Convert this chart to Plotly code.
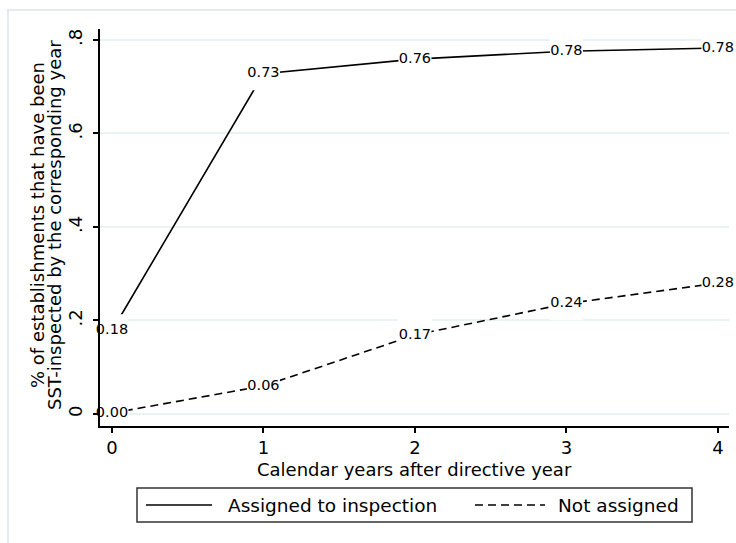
import plotly.graph_objects as go

# Share of establishments SST-inspected, by calendar year after directive year
years = [0, 1, 2, 3, 4]
assigned = [0.178, 0.728, 0.759, 0.776, 0.783]
not_assigned = [0.002, 0.060, 0.169, 0.236, 0.280]
series_names = ["Assigned to inspection", "Not assigned"]
y_ticks = [0, 0.2, 0.4, 0.6, 0.8]
y_tick_text = ["0", ".2", ".4", ".6", ".8"]
x_ticks = [0, 1, 2, 3, 4]

FONT = "DejaVu Sans"
GRID = "#eaf2f3"

fig = go.Figure()

# Series lines
fig.add_trace(go.Scatter(x=years, y=assigned, mode="lines",
                         line=dict(color="black", width=1.6),
                         showlegend=False, hoverinfo="skip"))
fig.add_trace(go.Scatter(x=years, y=not_assigned, mode="lines",
                         line=dict(color="black", width=1.6, dash="8px,5px"),
                         showlegend=False, hoverinfo="skip"))

# White boxes behind the value labels, then the labels themselves
for vals in (assigned, not_assigned):
    fig.add_trace(go.Scatter(x=years, y=vals, mode="markers",
                             marker=dict(symbol="square", size=33, color="white",
                                         line=dict(width=0)),
                             showlegend=False, hoverinfo="skip"))
    fig.add_trace(go.Scatter(x=years, y=vals, mode="text",
                             text=[f"{v:.2f}" for v in vals],
                             textposition="middle center",
                             textfont=dict(family=FONT, size=14.5, color="black"),
                             cliponaxis=False, showlegend=False, hoverinfo="skip"))

# Pixel -> paper helpers for the 736x543 canvas
L, R, T, B = 100, 7, 29, 117
W, H = 736, 543
pw, ph = W - L - R, H - T - B


def px(x):
    return (x - L) / pw


def py(y):
    return (H - B - y) / ph


shapes = [
    # outer graph-region frame
    dict(type="rect", xref="paper", yref="paper",
         x0=px(8), x1=px(760), y0=py(10), y1=py(570),
         line=dict(color="#e3ebef", width=2), fillcolor="rgba(0,0,0,0)", layer="below"),
    # legend box
    dict(type="rect", xref="paper", yref="paper",
         x0=px(137), x1=px(692), y0=py(488), y1=py(522),
         line=dict(color="#333333", width=1.5), fillcolor="white"),
    # legend samples
    dict(type="line", xref="paper", yref="paper",
         x0=px(146), x1=px(212), y0=py(505), y1=py(505),
         line=dict(color="black", width=1.6)),
    dict(type="line", xref="paper", yref="paper",
         x0=px(475), x1=px(545), y0=py(505), y1=py(505),
         line=dict(color="black", width=1.6, dash="8px,5px")),
]

annotations = [
    dict(xref="paper", yref="paper", x=px(226), y=py(505), xanchor="left", yanchor="middle",
         text=series_names[0], showarrow=False, font=dict(family=FONT, size=18.5, color="black")),
    dict(xref="paper", yref="paper", x=px(556), y=py(505), xanchor="left", yanchor="middle",
         text=series_names[1], showarrow=False, font=dict(family=FONT, size=18.5, color="black")),
    # x-axis title
    dict(xref="paper", yref="paper", x=0.5, y=py(469), xanchor="center", yanchor="middle",
         text="Calendar years after directive year", showarrow=False,
         font=dict(family=FONT, size=18, color="black")),
    # y-axis title (two lines)
    dict(xref="paper", yref="paper", x=px(37), y=py(225), xanchor="center", yanchor="middle",
         text="% of establishments that have been", textangle=-90, showarrow=False,
         font=dict(family=FONT, size=18, color="black")),
    dict(xref="paper", yref="paper", x=px(54), y=py(225), xanchor="center", yanchor="middle",
         text="SST-inspected by the corresponding year", textangle=-90, showarrow=False,
         font=dict(family=FONT, size=18, color="black")),
]

fig.update_layout(
    width=W, height=H,
    margin=dict(l=L, r=R, t=T, b=B, pad=0),
    paper_bgcolor="white", plot_bgcolor="white",
    font=dict(family=FONT, size=18, color="black"),
    shapes=shapes, annotations=annotations,
    showlegend=False,
    xaxis=dict(range=[-0.079, 4.073], tickvals=x_ticks, ticks="outside", ticklen=5,
               tickwidth=1.5, tickcolor="black", showline=True, linecolor="black",
               linewidth=1.5, showgrid=False, zeroline=False,
               tickfont=dict(family=FONT, size=18, color="black")),
    yaxis=dict(range=[-0.0257, 0.8235], tickvals=y_ticks, ticktext=y_tick_text,
               tickangle=-90, ticks="outside", ticklen=5, tickwidth=1.5, tickcolor="black",
               ticklabelstandoff=4,
               showline=True, linecolor="black", linewidth=1.5,
               showgrid=True, gridcolor=GRID, gridwidth=1.5, zeroline=False,
               tickfont=dict(family=FONT, size=18, color="black")),
)

fig.write_html("out.html")
